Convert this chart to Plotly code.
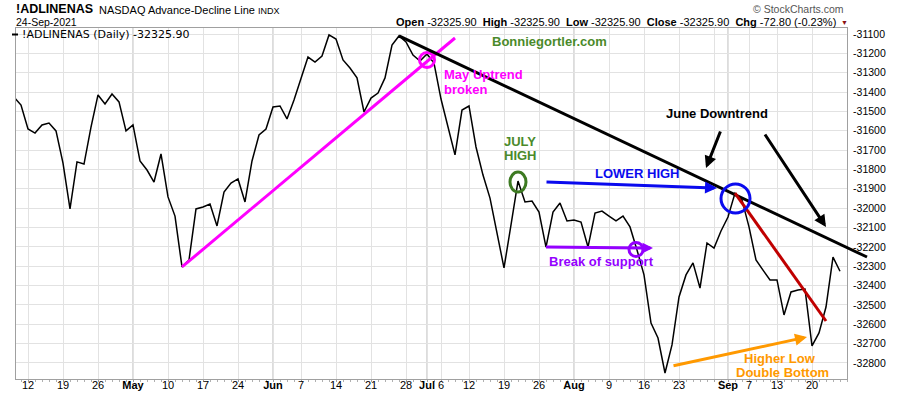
import pandas as pd
import plotly.graph_objects as go

# ---------------- data ----------------
holidays = ["2021-05-31", "2021-07-05", "2021-09-06"]
dates = [d for d in pd.bdate_range("2021-04-08", "2021-09-24") if d.strftime("%Y-%m-%d") not in holidays]

values = [
    # Apr
    -31426, -31467, -31591, -31612, -31570, -31560, -31601, -31767, -32004, -31761,
    -31772, -31581, -31415, -31462, -31410, -31451, -31601,
    # May
    -31570, -31756, -31803, -31865, -31720, -31942, -32041, -32304, -32268, -32004,
    -31994, -31979, -32092, -31917, -31870, -31849, -31968, -31756, -31622, -31591,
    # Jun
    -31477, -31472, -31539, -31441, -31327, -31219, -31245, -31214, -31105, -31126,
    -31234, -31276, -31327, -31503, -31431, -31405, -31327, -31157, -31110, -31141,
    -31209, -31240,
    # Jul
    -31203, -31250, -31436, -31581, -31725, -31493, -31472, -31684, -31829, -31948,
    -32128, -32309, -32087, -31860, -31968, -31963, -32020, -32201, -32020, -31973,
    -32066,
    # Aug
    -32061, -32072, -32201, -32025, -32015, -32041, -32066, -32041, -32097, -32216,
    -32345, -32594, -32671, -32852, -32707, -32459, -32345, -32283, -32413, -32180,
    -32206, -32118,
    # Sep
    -32046, -31922, -31958, -32097, -32268, -32320, -32371, -32371, -32552, -32433,
    -32423, -32418, -32712, -32645, -32511, -32253.10, -32325.90,
]

tick_dates = ["2021-04-12", "2021-04-19", "2021-04-26", "2021-05-03", "2021-05-10", "2021-05-17",
              "2021-05-24", "2021-06-01", "2021-06-07", "2021-06-14", "2021-06-21", "2021-06-28",
              "2021-07-01", "2021-07-06", "2021-07-12", "2021-07-19", "2021-07-26", "2021-08-02",
              "2021-08-09", "2021-08-16", "2021-08-23", "2021-08-30", "2021-09-01", "2021-09-07",
              "2021-09-13", "2021-09-20"]
tick_labels = ["12", "19", "26", "<b>May</b>", "10", "17", "24", "<b>Jun</b>", "7", "14", "21", "28",
               "<b>Jul</b>", "6", "12", "19", "26", "<b>Aug</b>", "9", "16", "23", "", "<b>Sep</b>", "7",
               "13", "20"]
month_dates = ["2021-05-03", "2021-06-01", "2021-07-01", "2021-08-02", "2021-09-01"]

y_ticks = list(range(-31100, -32900, -100))
y_labels = [str(v) for v in y_ticks]

# ---------------- geometry ----------------
W, H = 900, 396
L, R, T, B = 16, 847, 28, 379
X0PX, XSTEP = 14, 7.0          # pixel of index 0, pixels per trading day
Y0PX, YSCALE = 34, 0.1935      # pixel of -31100, pixels per unit

date_str = [d.strftime("%Y-%m-%d") for d in dates]
idx = {s: i for i, s in enumerate(date_str)}
xs = list(range(len(values)))

xr = [(L - X0PX) / XSTEP, (R - X0PX) / XSTEP]
yr = [-31100 - (B - Y0PX) / YSCALE, -31100 - (T - Y0PX) / YSCALE]


def d2px(i, v):
    return X0PX + XSTEP * i, Y0PX + (-31100 - v) * YSCALE


def pp(x, y):
    return (x - L) / (R - L), (B - y) / (B - T)


FONT = "Liberation Sans, Arial, sans-serif"

fig = go.Figure()
fig.add_trace(go.Scatter(x=xs, y=values, mode="lines",
                         line=dict(color="black", width=1.5), hoverinfo="skip"))

shapes = []
annos = []

# month grid lines
for md in month_dates:
    shapes.append(dict(type="line", xref="x", yref="paper", x0=idx[md], x1=idx[md], y0=0, y1=1,
                       line=dict(color="#b8b8b8", width=1), layer="below"))


def seg(p0, p1, color, width=3):
    a = pp(*p0)
    b = pp(*p1)
    shapes.append(dict(type="line", xref="paper", yref="paper", x0=a[0], y0=a[1], x1=b[0], y1=b[1],
                       line=dict(color=color, width=width)))


def ell(cx, cy, rx, ry, color, width=3):
    a = pp(cx - rx, cy + ry)
    b = pp(cx + rx, cy - ry)
    shapes.append(dict(type="circle", xref="paper", yref="paper", x0=a[0], y0=a[1], x1=b[0], y1=b[1],
                       line=dict(color=color, width=width)))


def arrow(tail, tip, color, width=3, size=0.8):
    t = pp(*tip)
    annos.append(dict(x=t[0], y=t[1], xref="paper", yref="paper", text="", showarrow=True,
                      ax=tail[0] - tip[0], ay=tail[1] - tip[1], arrowhead=2, arrowsize=size,
                      arrowwidth=width, arrowcolor=color, standoff=0, startstandoff=0))


def label(text, x, y, color, size=13, bold=True, xanchor="center", yanchor="middle", family=FONT, align="center"):
    p = pp(x, y)
    annos.append(dict(x=p[0], y=p[1], xref="paper", yref="paper", showarrow=False,
                      text=f"<b>{text}</b>" if bold else text, xanchor=xanchor, yanchor=yanchor,
                      align=align, font=dict(family=family, size=size, color=color)))


# uptrend (magenta) from May 12 low
p_may = d2px(idx["2021-05-12"], values[idx["2021-05-12"]])
seg(p_may, (455, 38), "#ff00ff")
ell(427, 60, 7.5, 7.5, "#ff00ff")
label("May Uptrend", 442, 74, "#ff00ff", xanchor="left")
label("broken", 442, 89, "#ff00ff", xanchor="left")

# June downtrend (black) from Jun 25 peak
p_jun = d2px(idx["2021-06-25"], values[idx["2021-06-25"]])
seg(p_jun, (867, 257), "black")

# red line from Sep 2 peak
p_sep = d2px(idx["2021-09-02"], values[idx["2021-09-02"]])
seg(p_sep, (826, 321), "#c00000")

# July high
p_jul = d2px(idx["2021-07-21"], values[idx["2021-07-21"]])
ell(p_jul[0], p_jul[1] + 1, 8, 10, "#3d7a22")
label("JULY", 520, 141, "#4a8a2a")
label("HIGH", 520, 155.5, "#4a8a2a")

# lower high
arrow((545, 182), (717, 188), "#0a0aee")
label("LOWER HIGH", 637, 173, "#0a0aee")
ell(735.5, 198.5, 14.5, 14.5, "#0a0aee")

# break of support
seg((546, 247), (642, 248), "#9400ff")
arrow((640, 248), (653, 248), "#9400ff", size=0.7)
ell(636, 249.5, 7, 7, "#9400ff")
label("Break of support", 547, 261, "#9400ff", xanchor="left")

# June downtrend label and arrows
label("June Downtrend", 717, 113, "black")
arrow((721, 130), (706, 168), "black")
arrow((764, 133), (826, 227), "black")

# higher low
arrow((672, 366), (807, 337), "#ff9900")
label("Higher Low", 780, 358.5, "#ff9900")
label("Double Bottom", 782, 372.5, "#ff9900")

# website
label("Bonniegortler.com", 490, 41, "#4a8a2a", xanchor="left")

# ---------------- header ----------------
last = values[-1]
prev = values[-2]
chg = last - prev
pct = chg / abs(prev) * 100
label("!ADLINENAS", 14, 9, "black", size=12.5, xanchor="left")
label("NASDAQ Advance-Decline Line <span style='font-size:9px'>INDX</span>", 97, 10, "black",
      size=11, bold=False, xanchor="left")
label(dates[-1].strftime("%d-%b-%Y"), 14, 22.5, "black", size=10.5, bold=False, xanchor="left")
ls = f"{last:.2f}"
hdr = (f"<b>Open</b> {ls} &nbsp;<b>High</b> {ls} &nbsp;<b>Low</b> {ls} &nbsp;<b>Close</b> {ls} "
       f"&nbsp;<b>Chg</b> {chg:.2f} ({pct:.2f}%)")
label(hdr, 838, 22.5, "black", size=11, bold=False, xanchor="right")
label("▼", 844, 22, "#8b1010", size=7, bold=False)
label("© StockCharts.com", 846, 9, "#555555", size=10.5, bold=False, xanchor="right")

# legend line inside the plot
shapes.append(dict(type="line", xref="paper", yref="paper", x0=pp(12, 0)[0], x1=pp(18, 0)[0],
                   y0=pp(0, 34.5)[1], y1=pp(0, 34.5)[1], line=dict(color="black", width=2)))
label(f"!ADLINENAS (Daily) {last:.2f}", 20, 34.5, "black", size=11, bold=False, xanchor="left",
      family="DejaVu Sans, Verdana, sans-serif")

fig.update_layout(
    width=W, height=H,
    margin=dict(l=L, r=W - R, t=T, b=H - B, pad=0, autoexpand=False),
    paper_bgcolor="white", plot_bgcolor="white",
    showlegend=False,
    shapes=shapes, annotations=annos,
    font=dict(family=FONT, size=11, color="black"),
    xaxis=dict(range=xr, tickvals=[idx[d] for d in tick_dates], ticktext=tick_labels,
               automargin=False,
               showgrid=True, gridcolor="#e2e2e2", gridwidth=1, zeroline=False,
               showline=True, mirror=True, linecolor="#a0a0a0", linewidth=1,
               ticks="outside", ticklen=2, tickcolor="#a0a0a0", ticklabelstandoff=-6,
               tickfont=dict(family=FONT, size=11, color="black"),
               minor=dict(dtick=1, tick0=0, ticks="outside", ticklen=2, tickcolor="#b0b0b0", showgrid=False)),
    yaxis=dict(range=yr, side="right", tickvals=y_ticks, ticktext=y_labels,
               automargin=False,
               showgrid=True, gridcolor="#e2e2e2", gridwidth=1, zeroline=False,
               showline=True, mirror=True, linecolor="#a0a0a0", linewidth=1,
               ticks="", ticklabelstandoff=3,
               tickfont=dict(family=FONT, size=10.5, color="black")),
)

fig.write_html("out.html", config={"displayModeBar": False},
               post_script="document.body.style.margin='0';document.body.style.overflow='hidden';")
